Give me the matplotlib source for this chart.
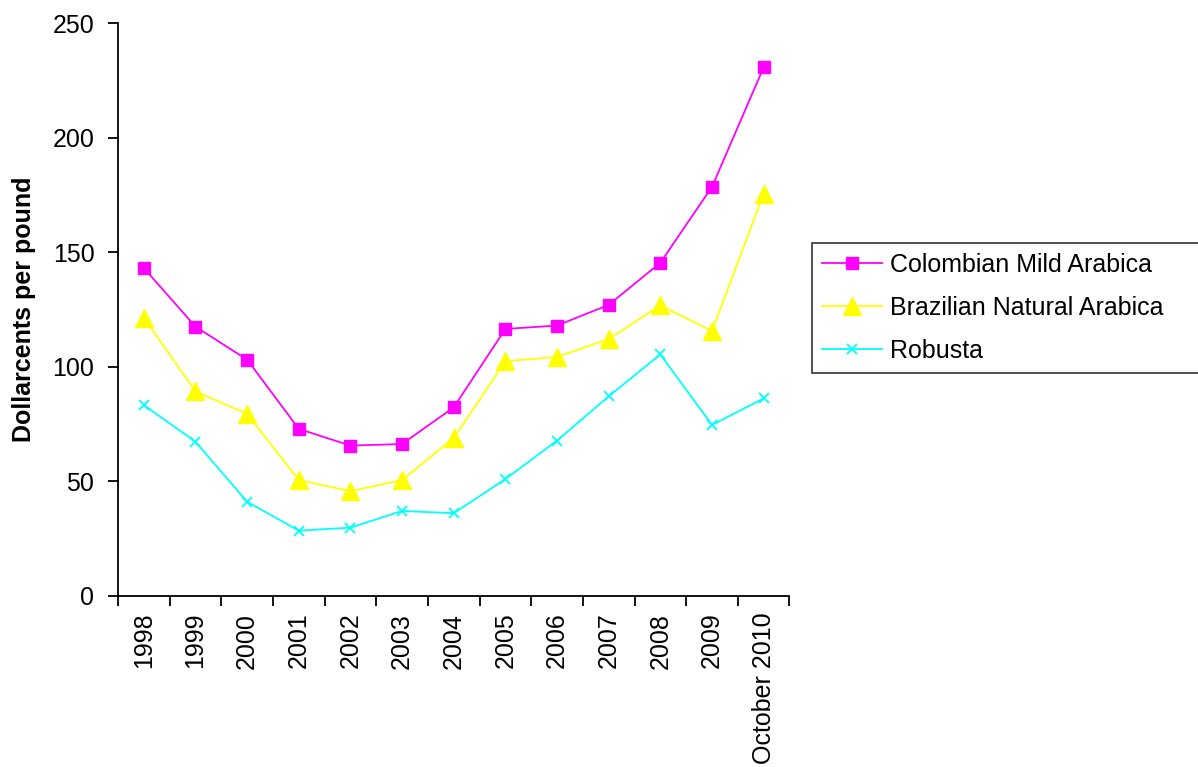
import numpy as np
import matplotlib.pyplot as plt

plt.rcParams['font.family'] = ['Liberation Sans', 'DejaVu Sans']

years = ['1998', '1999', '2000', '2001', '2002', '2003', '2004',
         '2005', '2006', '2007', '2008', '2009', 'October 2010']

# coffee prices, US cents per pound
colombian = [143.1, 117.5, 103.1, 72.9, 65.6, 66.3, 82.3,
             116.5, 118.0, 127.0, 145.4, 178.5, 230.7]
brazilian = [121.4, 89.3, 79.4, 50.6, 45.7, 50.6, 68.9,
             102.4, 104.3, 112.1, 126.8, 115.6, 175.6]
robusta = [83.3, 67.3, 41.1, 28.5, 29.8, 37.1, 36.1,
           51.0, 67.8, 87.1, 105.4, 74.6, 86.2]

fs = 18

fig = plt.figure(figsize=(11.98, 7.67), dpi=100)
ax = fig.add_axes([0.0985, 0.223, 0.5605, 0.747])

x = np.arange(len(years))
ax.plot(x, colombian, color='#ff00ff', lw=1.3, marker='s', ms=8.5,
        label='Colombian Mild Arabica')
ax.plot(x, brazilian, color='#ffff00', lw=1.3, marker='^', ms=13,
        label='Brazilian Natural Arabica')
ax.plot(x, robusta, color='#00ffff', lw=1.3, marker='x', ms=7, mew=1.3,
        label='Robusta')

ax.set_xlim(-0.5, len(years) - 0.5)
ax.set_ylim(0, 250)
ax.set_yticks(range(0, 251, 50))

# ticks sit on the category boundaries, labels on the centres
ax.set_xticks(np.arange(-0.5, len(years), 1.0))
ax.set_xticklabels([])
ax.set_xticks(x, minor=True)
ax.set_xticklabels(years, minor=True, rotation=90, fontsize=fs)
ax.tick_params(axis='x', which='minor', length=0, pad=12)
ax.tick_params(axis='x', which='major', direction='out', length=7, width=1.3)
ax.tick_params(axis='y', direction='out', length=7, width=1.3, labelsize=fs, pad=10)

for side in ['top', 'right']:
    ax.spines[side].set_visible(False)
for side in ['left', 'bottom']:
    ax.spines[side].set_linewidth(1.3)

ax.set_ylabel('Dollarcents per pound', fontsize=fs, fontweight='bold', labelpad=12)

# legend box runs off the right edge of the figure
leg = ax.legend(loc='upper left', bbox_to_anchor=(0.678, 0.683, 0.33, 0),
                bbox_transform=fig.transFigure, borderaxespad=0, mode='expand',
                fontsize=fs, frameon=True, fancybox=False,
                handlelength=2.4, handletextpad=0.32, labelspacing=0.75,
                borderpad=0.4)
leg.get_frame().set_edgecolor('black')
leg.get_frame().set_linewidth(1.2)

fig.savefig('out.png', dpi=100)
